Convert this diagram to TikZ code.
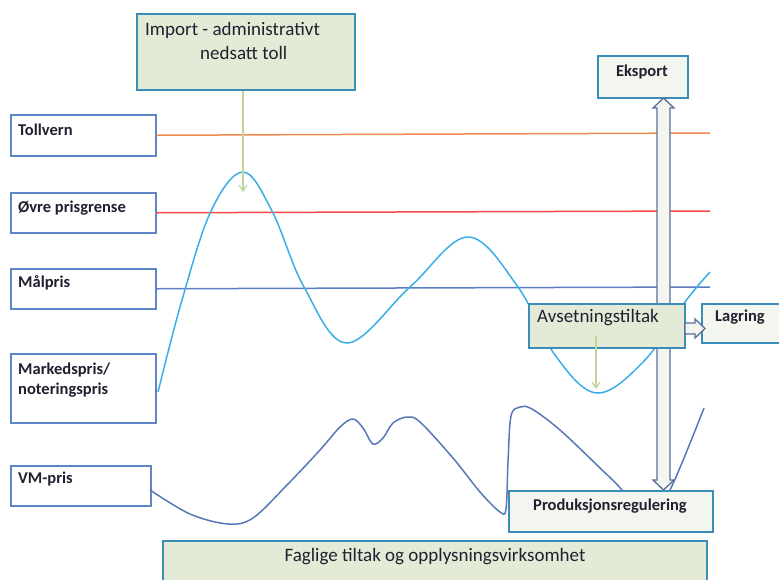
\documentclass[tikz,border=0pt]{standalone}
\usepackage{fontspec}
\setmainfont{Carlito}
\usetikzlibrary{calc,arrows.meta}
\definecolor{gfill}{HTML}{E3EBD6}
\definecolor{pfill}{HTML}{F3F6EE}
\definecolor{tealB}{HTML}{3A8DB8}
\definecolor{lblue}{HTML}{5D86C6}
\definecolor{mcurve}{HTML}{3AAEE6}
\definecolor{vcurve}{HTML}{5877B6}
\definecolor{orl}{HTML}{EE8A52}
\definecolor{redl}{HTML}{FF4646}
\definecolor{bluel}{HTML}{5A7CC0}
\definecolor{garrow}{HTML}{BFD59A}
\definecolor{aedge}{HTML}{5B6E98}
\definecolor{txt}{HTML}{202030}
\begin{document}
\begin{tikzpicture}[x=1pt,y=-1pt,
  lbox/.style={draw=lblue, line width=1.5pt, fill=white, anchor=north west, inner sep=0pt, minimum width=145pt},
  gbox/.style={draw=tealB, line width=1.5pt, fill=gfill, anchor=north west, inner sep=0pt},
  pbox/.style={draw=tealB, line width=1.5pt, fill=pfill, anchor=north west, inner sep=0pt},
  btxt/.style={font=\fontsize{16.5}{20.5}\selectfont\bfseries, text=txt, inner sep=0pt},
  rtxt/.style={font=\fontsize{19}{24}\selectfont, text=txt, inner sep=0pt},
  hline/.style={line width=1.5pt},
  curveline/.style={line width=1.5pt, line join=round},
  blockarrow/.style={draw=aedge, fill=pfill, line width=1.3pt, line join=miter},
  garr/.style={draw=garrow, line width=1.2pt, -{Straight Barb[length=6pt,width=8pt]}},
]
\useasboundingbox (0,0) rectangle (779,579);

% label boxes (left)
\node[lbox, minimum height=41pt] (toll) at (10,114) {};
\node[lbox, minimum height=40pt] (ovre) at (10,192) {};
\node[lbox, minimum height=40pt] (mal) at (10,268) {};
\node[lbox, minimum height=69pt] (mark) at (10,353) {};
\node[lbox, minimum height=40pt, minimum width=140pt] (vm) at (10,465) {};

% horizontal lines
\coordinate (tollE) at (710,133);
\coordinate (ovreE) at (710,211);
\coordinate (malE) at (710,287);
\draw[hline, orl] (toll.east) -- (tollE);
\draw[hline, redl] (ovre.east) -- (ovreE);
\draw[hline, bluel] (mal.east) -- (malE);

% market price curve
\draw[curveline, mcurve] plot[smooth, tension=0.6] coordinates {
  (158,392) (182,300) (211,211) (243,172) (272,211) (304,287) (347,343)
  (410,287) (468,237) (518,287) (555,355) (597,393) (645,360) (685,302) (710,272)};

% world market price curve
\draw[curveline, vcurve] plot[smooth, tension=0.55] coordinates {
  (150,490) (190,514) (228,524) (253,518) (287,485) (320,450) (340,427) (353,419)
  (363,428) (373,444) (383,438) (393,423) (407,417) (420,422) (453,458) (480,492)
  (500,512) (506,509) (508,462) (511,416) (520,407) (532,409) (560,430) (600,468)
  (622,490) (646,522) (670,490) (704,408)};

% top boxes
\node[gbox, minimum width=218pt, minimum height=76pt] (imp) at (136,13) {};
\node[pbox, minimum width=90pt, minimum height=42pt] (eks) at (597,55) {};

% double block arrow (Eksport <-> Produksjonsregulering)
\draw[blockarrow] (663.5,98) -- (674,108) -- (670,108) -- (670,480) -- (674,480)
  -- (663.5,490) -- (653,480) -- (657,480) -- (657,108) -- (653,108) -- cycle;

% import arrow
\coordinate (impTip) at (243,192);
\draw[garr] (imp.south -| impTip) -- (impTip);

% lower boxes
\node[gbox, minimum width=156pt, minimum height=44pt] (avs) at (528,303) {};
\node[pbox, minimum width=100pt, minimum height=39pt] (lag) at (701,303) {};
\node[pbox, minimum width=204pt, minimum height=41pt] (prod) at (508,490) {};
\node[gbox, minimum width=544pt, minimum height=60pt] (fag) at (162,540) {};

% Lagring block arrow
\draw[blockarrow] (685,323) -- (695,323) -- (695,319) -- (705,328.5) -- (695,338)
  -- (695,334) -- (685,334) -- cycle;

% Avsetningstiltak arrow
\coordinate (avsStart) at (596,336);
\coordinate (avsTip) at (596,389);
\draw[garr] (avsStart) -- (avsTip);

% texts
\node[btxt, anchor=west] (tollT) at (18,130) {Tollvern};
\node[btxt, anchor=west] (ovreT) at (18,208) {Øvre prisgrense};
\node[btxt, anchor=west] (malT) at (18,283) {Målpris};
\node[btxt, anchor=west, align=left] (markT) at (18,380) {Markedspris/\\noteringspris};
\node[btxt, anchor=west] (vmT) at (18,479) {VM-pris};
\node[rtxt, anchor=west, align=left] (impT) at (145,41) {Import - administrativt\\\hspace*{55pt}nedsatt toll};
\node[btxt] (eksT) at (642,72) {Eksport};
\node[rtxt, anchor=west] (avsT) at (537,318) {Avsetningstiltak};
\node[btxt, anchor=west] (lagT) at (715,317) {Lagring};
\node[btxt] (prodT) at (610,506) {Produksjonsregulering};
\node[rtxt] (fagT) at (435,557) {Faglige tiltak og opplysningsvirksomhet};
\end{tikzpicture}
\end{document}
